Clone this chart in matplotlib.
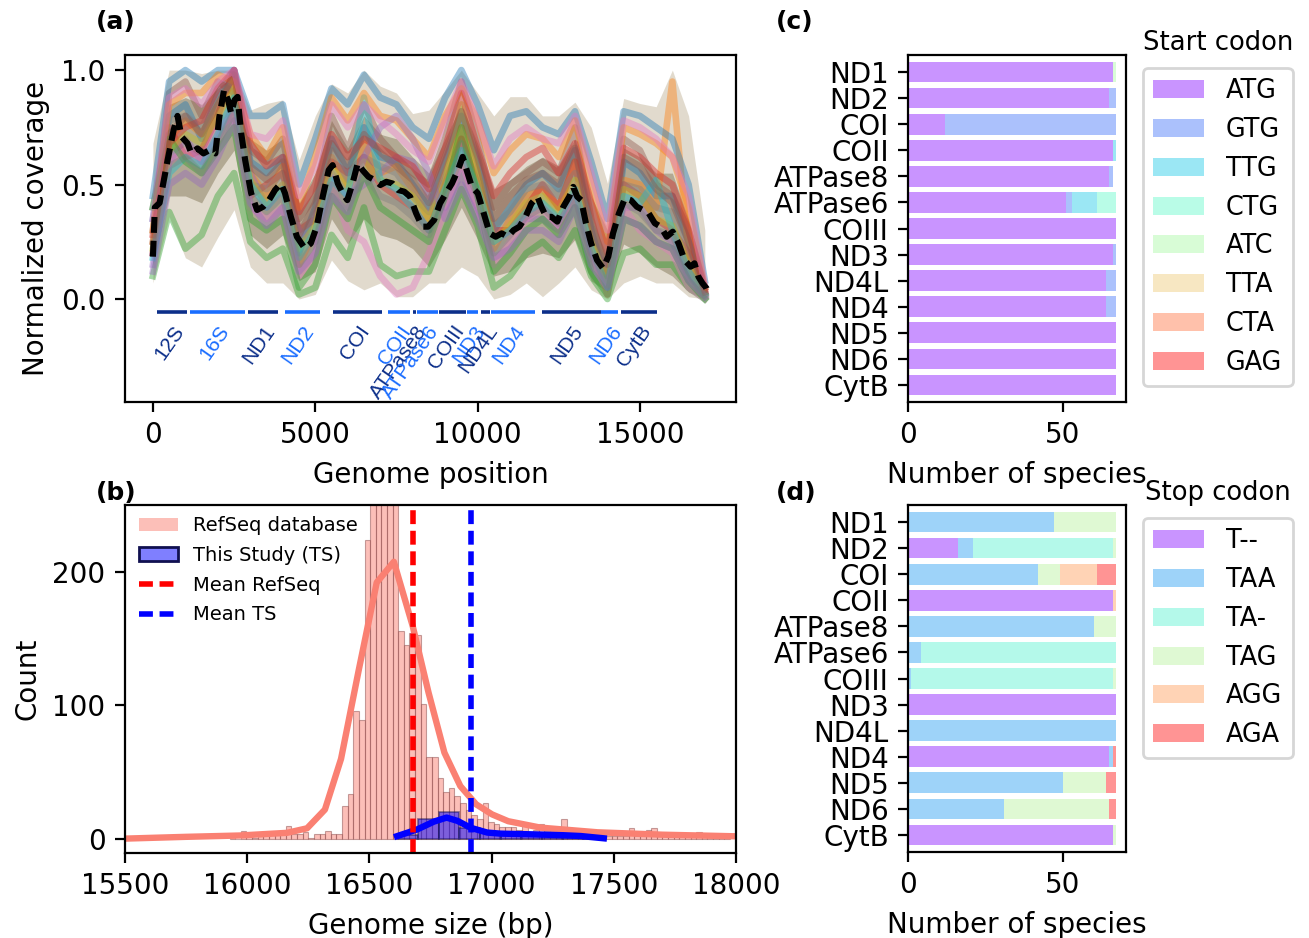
import numpy as np
import matplotlib
matplotlib.use("Agg")
import matplotlib.pyplot as plt
from matplotlib.patches import Patch
from matplotlib.lines import Line2D

# ---------------- data: panel (a) ----------------
gene_names = ['12S', '16S', 'ND1', 'ND2', 'COI', 'COII', 'ATPase8', 'ATPase6',
              'COIII', 'ND3', 'ND4L', 'ND4', 'ND5', 'ND6', 'CytB']
gene_start = [120, 1147, 2919, 4080, 5540, 7232, 8006, 8142, 8804, 9686,
              10106, 10415, 11979, 13803, 14414]
gene_end = [1054, 2831, 3858, 5131, 7065, 7920, 8117, 8770, 9633, 10028,
            10383, 11772, 13803, 14336, 15529]

cov_pos = [0, 500, 1000, 1500, 2000, 2500, 3000, 3500, 4000, 4500, 5000, 5500,
           6000, 6500, 7000, 7500, 8000, 8500, 9000, 9500, 10000, 10500, 11000,
           11500, 12000, 12500, 13000, 13500, 14000, 14500, 15000, 15500, 16000,
           16500, 17000]
env_hi = [0.68, 1.0, 1.0, 0.985, 1.0, 1.0, 0.825, 0.854, 0.87, 0.607, 0.80, 0.94,
          0.90, 1.0, 0.93, 0.90, 0.81, 0.825, 0.91, 1.0, 0.90, 0.80, 0.884, 0.884,
          0.80, 0.80, 0.86, 0.75, 0.505, 0.876, 0.854, 0.84, 1.0, 0.80, 0.30]
env_lo = [0.07, 0.36, 0.18, 0.14, 0.27, 0.39, 0.14, 0.07, 0.07, 0.0, 0.02, 0.17,
          0.08, 0.04, 0.07, 0.01, 0.01, 0.07, 0.07, 0.14, 0.10, 0.0, 0.02, 0.07,
          0.01, 0.07, 0.14, 0.04, 0.0, 0.07, 0.10, 0.07, 0.07, 0.01, 0.0]
core_hi = [0.45, 0.85, 0.88, 0.85, 0.92, 0.98, 0.70, 0.65, 0.70, 0.42, 0.55, 0.78,
           0.66, 0.80, 0.72, 0.70, 0.62, 0.55, 0.70, 0.85, 0.68, 0.48, 0.52, 0.58,
           0.62, 0.58, 0.70, 0.45, 0.30, 0.66, 0.62, 0.55, 0.55, 0.35, 0.10]
core_lo = [0.15, 0.45, 0.45, 0.42, 0.55, 0.65, 0.28, 0.22, 0.28, 0.08, 0.12, 0.35,
           0.24, 0.35, 0.28, 0.26, 0.22, 0.14, 0.26, 0.40, 0.26, 0.10, 0.12, 0.18,
           0.20, 0.18, 0.26, 0.08, 0.03, 0.24, 0.20, 0.14, 0.10, 0.03, 0.0]

sample_curves = [
    [0.35, 0.80, 0.85, 0.70, 0.90, 1.00, 0.60, 0.55, 0.62, 0.20, 0.40, 0.70, 0.55, 0.75, 0.62, 0.60, 0.50, 0.40, 0.60, 0.80, 0.60, 0.30, 0.40, 0.50, 0.55, 0.48, 0.65, 0.30, 0.05, 0.60, 0.55, 0.45, 0.45, 0.25, 0.03],
    [0.25, 0.70, 0.78, 0.72, 0.85, 0.95, 0.55, 0.45, 0.58, 0.15, 0.30, 0.62, 0.50, 0.68, 0.55, 0.58, 0.48, 0.35, 0.55, 0.75, 0.55, 0.22, 0.35, 0.45, 0.48, 0.40, 0.60, 0.25, 0.02, 0.52, 0.50, 0.40, 0.95, 0.20, 0.02],
    [0.10, 0.38, 0.22, 0.28, 0.45, 0.55, 0.25, 0.18, 0.22, 0.02, 0.05, 0.28, 0.18, 0.40, 0.15, 0.10, 0.12, 0.12, 0.30, 0.48, 0.32, 0.05, 0.10, 0.20, 0.25, 0.18, 0.30, 0.10, 0.00, 0.20, 0.22, 0.15, 0.15, 0.05, 0.00],
    [0.20, 0.75, 0.62, 0.65, 0.80, 1.00, 0.45, 0.50, 0.55, 0.30, 0.35, 0.60, 0.55, 0.62, 0.50, 0.45, 0.40, 0.30, 0.50, 0.70, 0.50, 0.30, 0.30, 0.40, 0.50, 0.40, 0.60, 0.20, 0.10, 0.50, 0.45, 0.35, 0.30, 0.20, 0.03],
    [0.15, 0.60, 0.70, 0.60, 0.70, 0.85, 0.55, 0.40, 0.50, 0.30, 0.25, 0.55, 0.45, 0.50, 0.55, 0.62, 0.60, 0.45, 0.40, 0.55, 0.40, 0.25, 0.30, 0.35, 0.35, 0.30, 0.45, 0.20, 0.15, 0.40, 0.40, 0.30, 0.25, 0.10, 0.02],
    [0.30, 0.90, 0.95, 0.80, 0.95, 0.90, 0.65, 0.60, 0.70, 0.35, 0.45, 0.80, 0.65, 0.85, 0.70, 0.62, 0.55, 0.50, 0.70, 0.95, 0.70, 0.40, 0.50, 0.55, 0.60, 0.55, 0.75, 0.35, 0.10, 0.70, 0.65, 0.50, 0.45, 0.30, 0.05],
    [0.20, 0.60, 0.65, 0.60, 0.75, 0.80, 0.40, 0.35, 0.40, 0.10, 0.20, 0.50, 0.30, 0.25, 0.10, 0.02, 0.05, 0.20, 0.40, 0.60, 0.40, 0.15, 0.25, 0.35, 0.40, 0.30, 0.50, 0.20, 0.02, 0.40, 0.30, 0.25, 0.20, 0.05, 0.00],
    [0.40, 0.78, 0.80, 0.75, 0.88, 0.95, 0.50, 0.48, 0.55, 0.25, 0.38, 0.65, 0.52, 0.62, 0.58, 0.55, 0.45, 0.38, 0.52, 0.68, 0.50, 0.32, 0.38, 0.48, 0.50, 0.45, 0.55, 0.28, 0.12, 0.50, 0.48, 0.40, 0.38, 0.18, 0.02],
    [0.22, 0.65, 0.72, 0.68, 0.80, 0.92, 0.52, 0.42, 0.50, 0.22, 0.32, 0.58, 0.48, 0.60, 0.52, 0.50, 0.45, 0.35, 0.50, 0.85, 0.55, 0.25, 0.32, 0.42, 0.45, 0.38, 0.52, 0.25, 0.08, 0.48, 0.45, 0.35, 0.32, 0.15, 0.02],
    [0.18, 0.55, 0.62, 0.58, 0.72, 0.88, 0.50, 0.40, 0.48, 0.18, 0.30, 0.52, 0.45, 0.88, 0.52, 0.48, 0.40, 0.30, 0.48, 0.65, 0.48, 0.25, 0.30, 0.38, 0.42, 0.35, 0.48, 0.22, 0.05, 0.45, 0.42, 0.52, 0.30, 0.12, 0.02],
    [0.45, 0.95, 1.00, 0.95, 1.00, 1.00, 0.80, 0.80, 0.85, 0.50, 0.70, 0.92, 0.85, 0.98, 0.88, 0.85, 0.75, 0.70, 0.88, 1.00, 0.85, 0.65, 0.80, 0.82, 0.75, 0.72, 0.82, 0.60, 0.35, 0.82, 0.80, 0.75, 0.70, 0.50, 0.08],
    [0.30, 0.85, 0.90, 0.90, 0.98, 0.95, 0.72, 0.62, 0.75, 0.40, 0.62, 0.88, 0.78, 0.90, 0.80, 0.78, 0.70, 0.62, 0.80, 0.92, 0.78, 0.55, 0.65, 0.72, 0.70, 0.62, 0.78, 0.50, 0.25, 0.75, 0.72, 0.68, 0.62, 0.40, 0.05],
    [0.40, 0.70, 0.60, 0.55, 0.65, 0.75, 0.35, 0.30, 0.35, 0.05, 0.15, 0.45, 0.35, 0.55, 0.40, 0.35, 0.30, 0.25, 0.45, 0.75, 0.45, 0.12, 0.20, 0.30, 0.35, 0.28, 0.40, 0.12, 0.02, 0.35, 0.32, 0.25, 0.22, 0.08, 0.00],
    [0.28, 0.68, 0.75, 0.78, 0.92, 1.00, 0.68, 0.58, 0.62, 0.38, 0.50, 0.72, 0.62, 0.70, 0.66, 0.62, 0.58, 0.48, 0.66, 0.90, 0.66, 0.45, 0.55, 0.62, 0.66, 0.55, 0.68, 0.42, 0.20, 0.66, 0.62, 0.55, 0.50, 0.30, 0.04],
    [0.12, 0.50, 0.55, 0.50, 0.62, 0.78, 0.42, 0.32, 0.40, 0.12, 0.20, 0.45, 0.38, 0.62, 0.75, 0.80, 0.70, 0.55, 0.35, 0.50, 0.35, 0.18, 0.22, 0.30, 0.30, 0.25, 0.40, 0.15, 0.05, 0.35, 0.32, 0.25, 0.22, 0.08, 0.01],
    [0.25, 0.72, 0.80, 0.72, 0.85, 0.98, 0.58, 0.52, 0.60, 0.28, 0.42, 0.68, 0.58, 0.72, 0.64, 0.58, 0.52, 0.42, 0.62, 0.82, 0.62, 0.35, 0.45, 0.52, 0.55, 0.50, 0.66, 0.32, 0.15, 0.62, 0.58, 0.48, 0.42, 0.25, 0.03],
    [0.35, 0.88, 0.92, 0.85, 0.95, 1.00, 0.72, 0.70, 0.78, 0.45, 0.58, 0.85, 0.75, 0.85, 0.78, 0.72, 0.65, 0.60, 0.78, 0.95, 0.78, 0.58, 0.70, 0.75, 0.70, 0.68, 0.80, 0.55, 0.30, 0.78, 0.75, 0.70, 0.62, 0.45, 0.06],
    [0.20, 0.58, 0.62, 0.55, 0.68, 0.82, 0.45, 0.38, 0.45, 0.15, 0.25, 0.50, 0.40, 0.55, 0.45, 0.42, 0.36, 0.28, 0.45, 0.62, 0.45, 0.20, 0.28, 0.36, 0.40, 0.33, 0.45, 0.18, 0.06, 0.42, 0.38, 0.30, 0.28, 0.12, 0.01],
]

mean_x = [0, 60, 206, 453, 638, 758, 881, 1066, 1186, 1371, 1556, 1738, 1923, 2046,
          2191, 2314, 2413, 2512, 2607, 2718, 2841, 3026, 3208, 3393, 3575, 3760,
          3945, 4068, 4250, 4435, 4678, 4863, 5045, 5230, 5415, 5535, 5695, 5843,
          5988, 6148, 6308, 6456, 6638, 6823, 7005, 7190, 7375, 7556, 7741, 7923,
          8108, 8293, 8475, 8660, 8844, 9026, 9211, 9393, 9541, 9664, 9824, 10006,
          10191, 10373, 10558, 10743, 10925, 11110, 11291, 11476, 11661, 11843,
          11966, 12114, 12271, 12456, 12641, 12823, 12946, 13069, 13190, 13338,
          13498, 13680, 13865, 14025, 14173, 14355, 14540, 14721, 14906, 15091,
          15273, 15458, 15640, 15825, 16010, 16191, 16376, 16561, 16681, 16804,
          16927, 17051, 17134]
mean_y = [0.185, 0.40, 0.42, 0.607, 0.738, 0.80, 0.709, 0.68, 0.636, 0.658, 0.636,
          0.65, 0.636, 0.796, 0.913, 0.869, 0.811, 0.869, 0.883, 0.725, 0.607,
          0.462, 0.389, 0.403, 0.432, 0.476, 0.505, 0.462, 0.359, 0.272, 0.221,
          0.243, 0.316, 0.447, 0.563, 0.585, 0.505, 0.462, 0.432, 0.505, 0.593,
          0.563, 0.534, 0.52, 0.498, 0.512, 0.505, 0.476, 0.469, 0.447, 0.374,
          0.316, 0.316, 0.345, 0.418, 0.462, 0.505, 0.563, 0.621, 0.563, 0.49,
          0.462, 0.374, 0.287, 0.272, 0.287, 0.272, 0.301, 0.316, 0.359, 0.418,
          0.447, 0.403, 0.359, 0.359, 0.338, 0.403, 0.447, 0.49, 0.447, 0.432,
          0.331, 0.243, 0.17, 0.134, 0.185, 0.287, 0.374, 0.44, 0.432, 0.403,
          0.389, 0.374, 0.331, 0.316, 0.272, 0.294, 0.243, 0.17, 0.141, 0.156,
          0.097, 0.069, 0.047, 0.017]

# ---------------- data: panel (b) ----------------
refseq_bin_first = 15928
refseq_bin_width = 23
refseq_counts = [2, 0, 6, 3, 1, 2, 4, 3, 3, 4, 10, 4, 4, 5, 1, 4, 4, 6, 4, 4,
                 25, 34, 96, 89, 224, 280, 320, 340, 300, 265, 156, 145, 154, 153,
                 101, 61, 61, 46, 35, 38, 32, 27, 22, 18, 15, 27, 13, 11, 9, 9, 9,
                 7, 11, 5, 7, 11, 6, 6, 3, 15, 2, 2, 2, 2, 2, 7, 2, 2, 2, 2, 2, 8,
                 2, 2, 7, 8, 2, 2, 2, 2, 2, 2, 3, 5, 3, 2, 2, 1, 1]
ts_bin_first = 16615
ts_bin_width = 84.4
ts_counts = [3, 15, 20, 8, 5, 4, 4, 3, 3, 2]
kde_ref_x = [15450, 15750, 15970, 16163, 16245, 16318, 16384, 16457, 16530, 16600,
             16677, 16742, 16807, 16872, 16937, 17002, 17068, 17200, 17434, 17700,
             18050]
kde_ref_y = [0.0, 1.6, 2.6, 4.6, 8.0, 22, 60, 127, 192, 207.5, 159.5, 109.6, 64.6,
             39.6, 25.9, 18.4, 13.3, 8.5, 5.0, 3.2, 1.8]
kde_ts_x = [16613, 16695, 16764, 16816, 16861, 16914, 16982, 17037, 17160, 17295,
            17365, 17459]
kde_ts_y = [2.1, 7.1, 13.0, 16.0, 13.5, 8.4, 4.8, 4.0, 3.5, 2.8, 2.2, 0.5]
mean_refseq = 16680
mean_ts = 16914

# ---------------- data: panels (c), (d) ----------------
pcg = ['ND1', 'ND2', 'COI', 'COII', 'ATPase8', 'ATPase6', 'COIII', 'ND3',
       'ND4L', 'ND4', 'ND5', 'ND6', 'CytB']
start_codons = ['ATG', 'GTG', 'TTG', 'CTG', 'ATC', 'TTA', 'CTA', 'GAG']
start_ATG = [66, 65, 12, 66, 65, 51, 67, 66, 64, 64, 67, 67, 67]
start_GTG = [0, 2, 55, 0, 1, 2, 0, 1, 3, 3, 0, 0, 0]
start_TTG = [0, 0, 0, 1, 0, 8, 0, 0, 0, 0, 0, 0, 0]
start_CTG = [0, 0, 0, 0, 0, 6, 0, 0, 0, 0, 0, 0, 0]
start_ATC = [1, 0, 0, 0, 0, 0, 0, 0, 0, 0, 0, 0, 0]
start_TTA = [0, 0, 0, 0, 0, 0, 0, 0, 0, 0, 0, 0, 0]
start_CTA = [0, 0, 0, 0, 0, 0, 0, 0, 0, 0, 0, 0, 0]
start_GAG = [0, 0, 0, 0, 0, 0, 0, 0, 0, 0, 0, 0, 0]
stop_codons = ['T--', 'TAA', 'TA-', 'TAG', 'AGG', 'AGA']
stop_T = [0, 16, 0, 66, 0, 0, 0, 67, 0, 65, 0, 0, 66]
stop_TAA = [47, 5, 42, 0, 60, 4, 1, 0, 67, 1, 50, 31, 0]
stop_TA = [0, 45, 0, 0, 0, 63, 65, 0, 0, 0, 0, 0, 0]
stop_TAG = [20, 1, 7, 0, 7, 0, 1, 0, 0, 0, 14, 34, 1]
stop_AGG = [0, 0, 12, 1, 0, 0, 0, 0, 0, 0, 0, 0, 0]
stop_AGA = [0, 0, 6, 0, 0, 0, 0, 0, 0, 1, 3, 2, 0]

# ---------------- figure ----------------
plt.rcParams['font.family'] = ['DejaVu Sans']
plt.rcParams['font.size'] = 10
W, H = 1309, 938
fig = plt.figure(figsize=(W / 200, H / 200), dpi=200)


def ax_px(x0, y0, x1, y1):
    return fig.add_axes([x0 / W, 1 - y1 / H, (x1 - x0) / W, (y1 - y0) / H])


axA = ax_px(125, 55, 736, 402)
axB = ax_px(125, 505, 736, 853)
axC = ax_px(908.3, 55, 1126, 402)
axD = ax_px(908.3, 505, 1126, 852)

# ---- panel (a)
tab = plt.get_cmap('tab10').colors
axA.fill_between(cov_pos, env_lo, env_hi, color='#c4b79c', alpha=0.5, lw=0)
axA.fill_between(cov_pos, core_lo, core_hi, color='#857a5a', alpha=0.5, lw=0)
for i, cv in enumerate(sample_curves):
    axA.plot(cov_pos, cv, color=tab[i % 10], alpha=0.42, lw=2.4)
axA.plot(mean_x, mean_y, color='black', lw=2.2, ls='--', dashes=(2.6, 1.3))
dark, light = '#0c2f8a', '#1a6dff'
for i, (g, s, e) in enumerate(zip(gene_names, gene_start, gene_end)):
    c = dark if i % 2 == 0 else light
    axA.plot([s, e], [-0.055, -0.055], color=c, lw=1.3, solid_capstyle='butt')
    axA.text((s + e) / 2, -0.1, g, rotation=55, ha='right', va='top',
             rotation_mode='anchor', color=c, fontsize=7.5,
             family=['Liberation Sans', 'DejaVu Sans'])
axA.set_xlim(-860, 17960)
axA.set_ylim(-0.45, 1.066)
axA.set_xticks([0, 5000, 10000, 15000])
axA.set_yticks([0.0, 0.5, 1.0])
axA.set_xlabel('Genome position')
axA.set_ylabel('Normalized coverage')

# ---- panel (b)
ref_edges = refseq_bin_first + refseq_bin_width * np.arange(len(refseq_counts))
axB.bar(ref_edges, refseq_counts, width=refseq_bin_width, align='edge',
        color='salmon', alpha=0.5, edgecolor=(0.55, 0.3, 0.3, 0.35), lw=0.4)
ts_edges = ts_bin_first + ts_bin_width * np.arange(len(ts_counts))
axB.bar(ts_edges, ts_counts, width=ts_bin_width, align='edge',
        color='blue', alpha=0.5, edgecolor='#101050', lw=0.6)
axB.plot(kde_ref_x, kde_ref_y, color='salmon', lw=2.3)
axB.plot(kde_ts_x, kde_ts_y, color='blue', lw=2.3)
axB.axvline(mean_refseq, color='red', lw=2, ls='--', dashes=(2.5, 1.2))
axB.axvline(mean_ts, color='blue', lw=2, ls='--', dashes=(2.5, 1.2))
axB.set_xlim(15500, 18000)
axB.set_ylim(-10.5, 250)
axB.set_xticks([15500, 16000, 16500, 17000, 17500, 18000])
axB.set_yticks([0, 100, 200])
axB.set_xlabel('Genome size (bp)')
axB.set_ylabel('Count')
handles_b = [Patch(facecolor='salmon', alpha=0.5, edgecolor='none'),
             Patch(facecolor=(0, 0, 1, 0.5), edgecolor='#101050'),
             Line2D([], [], color='red', lw=2, ls='--', dashes=(2.5, 1.2)),
             Line2D([], [], color='blue', lw=2, ls='--', dashes=(2.5, 1.2))]
axB.legend(handles_b, ['RefSeq database', 'This Study (TS)', 'Mean RefSeq', 'Mean TS'],
           loc='upper left', bbox_to_anchor=(0.01, 0.99), borderaxespad=0,
           fontsize=7, frameon=False, labelspacing=0.55)

# ---- panels (c), (d)
rainbow = plt.get_cmap('rainbow')
start_vals = [start_ATG, start_GTG, start_TTG, start_CTG, start_ATC, start_TTA,
              start_CTA, start_GAG]
stop_vals = [stop_T, stop_TAA, stop_TA, stop_TAG, stop_AGG, stop_AGA]
ypos = np.arange(len(pcg))


def stacked(ax, names, vals, title, leg_top):
    cols = [rainbow(v) for v in np.linspace(0, 1, len(names))]
    left = np.zeros(len(pcg))
    for n, v, c in zip(names, vals, cols):
        ax.barh(ypos, v, left=left, height=0.8, color=c, alpha=0.42, lw=0)
        left += np.array(v)
    ax.set_ylim(12.65, -0.65)
    ax.set_xlim(0, 70.35)
    ax.set_yticks(ypos)
    ax.set_yticklabels(pcg)
    ax.set_xticks([0, 50])
    ax.set_xlabel('Number of species')
    hs = [Patch(facecolor=c, alpha=0.42, edgecolor='none') for c in cols]
    ax.legend(hs, names, loc='upper left', bbox_to_anchor=(1143 / W, 1 - leg_top / H),
              bbox_transform=fig.transFigure, borderaxespad=0, fontsize=9.2,
              labelspacing=0.5, handletextpad=0.85, borderpad=0.4,
              edgecolor='#cccccc', fancybox=True)
    fig.text(1218 / W, 1 - (leg_top - 25) / H, title, ha='center', va='center',
             fontsize=9.3)


stacked(axC, start_codons, start_vals, 'Start codon', 68)
stacked(axD, stop_codons, stop_vals, 'Stop codon', 518)

for lab, x, y in [('(a)', 96, 22), ('(b)', 96, 493), ('(c)', 776, 22), ('(d)', 776, 493)]:
    fig.text(x / W, 1 - y / H, lab, fontweight='bold', fontsize=9,
             ha='left', va='center')

fig.savefig('out.png', dpi=200)
